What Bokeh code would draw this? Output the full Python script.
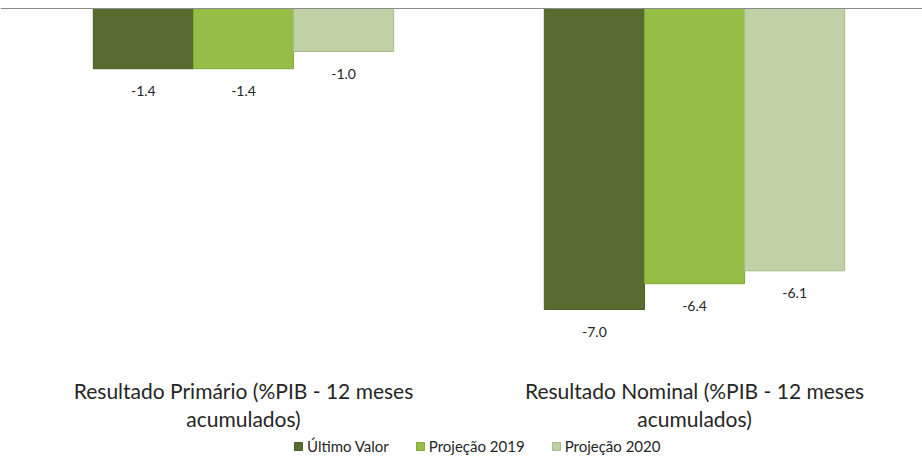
from bokeh.plotting import figure
from bokeh.models import Range1d, Span, Label, LabelSet, ColumnDataSource, Legend, LegendItem
from bokeh.core.properties import value
from bokeh.embed import file_html
from bokeh.resources import INLINE

categories = ["Resultado Primário (%PIB - 12 meses\nacumulados)",
              "Resultado Nominal (%PIB - 12 meses\nacumulados)"]
series_names = ["Último Valor", "Projeção 2019", "Projeção 2020"]
ultimo_valor = [-1.4, -7.0]
projecao_2019 = [-1.4, -6.4]
projecao_2020 = [-1.0, -6.1]

series_values = [ultimo_valor, projecao_2019, projecao_2020]
fills = ["#586c2f", "#96bd46", "#bfd1a5"]
edges = ["#4a5b25", "#82a837", "#a8ba8e"]

FONT = "Lato"
W, H = 922, 462
PX_PER_UNIT = 43.0
y_top = 8 / PX_PER_UNIT
y_bottom = y_top - H / PX_PER_UNIT

p = figure(width=W, height=H, output_backend="svg", toolbar_location=None,
           x_range=Range1d(-0.5388, 1.5055), y_range=Range1d(y_bottom, y_top),
           min_border=0, min_border_left=0, min_border_right=0,
           min_border_top=0, min_border_bottom=0)
p.axis.visible = False
p.grid.visible = False
p.outline_line_color = None
p.background_fill_color = "white"
p.border_fill_color = "white"

bar_w = 0.222
offsets = [-bar_w, 0.0, bar_w]
xs_idx = list(range(len(categories)))

items = []
for s, (name, vals) in enumerate(zip(series_names, series_values)):
    xs = [i + offsets[s] for i in xs_idx]
    src = ColumnDataSource(dict(x=xs, top=[0.0] * len(vals), bottom=vals,
                                lbl=["%.1f" % v for v in vals]))
    r = p.vbar(x="x", width=bar_w, top="top", bottom="bottom", source=src,
               fill_color=fills[s], line_color=edges[s], line_width=1)
    items.append(LegendItem(label=name, renderers=[r]))
    ls = LabelSet(x="x", y="bottom", text="lbl", source=src,
                  text_align="center", text_baseline="middle", y_offset=-22,
                  text_font=value(FONT), text_font_size=value("14px"),
                  text_color=value("#262626"))
    p.add_layout(ls)

p.add_layout(Span(location=0, dimension="width", line_color="#8c8c8c", line_width=1))

# category labels (two lines each), positioned in screen units from frame bottom
for i, cat in enumerate(categories):
    lines = cat.split("\n")
    for j, line in enumerate(lines):
        p.add_layout(Label(x=i, y=72 - 28 * j, x_units="data", y_units="screen",
                           text=line, text_align="center", text_baseline="middle",
                           text_font=FONT, text_font_size="21px", text_color="#262626"))

legend = Legend(items=items, orientation="horizontal", location=(293, 7),
                margin=0, padding=0, spacing=26, label_standoff=4,
                glyph_width=10, glyph_height=10,
                label_text_font=FONT, label_text_font_size="15px",
                label_text_color="#262626",
                border_line_color=None, background_fill_alpha=0)
p.add_layout(legend, "center")

open("out.html", "w").write(file_html(p, INLINE))
